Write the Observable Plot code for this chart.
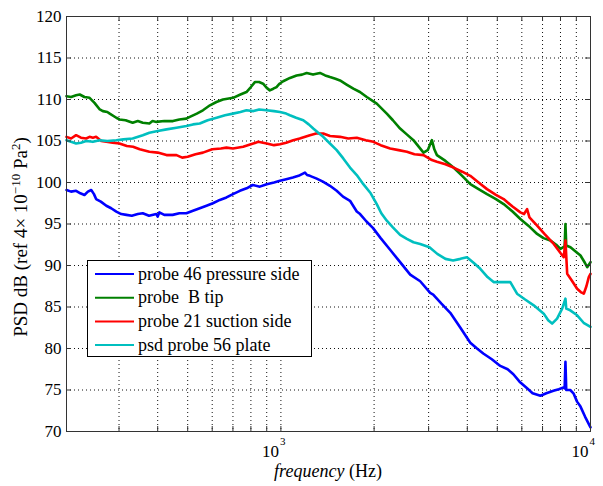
<!DOCTYPE html>
<html><head><meta charset="utf-8">
<script src="https://cdn.jsdelivr.net/npm/d3@7"></script>
<script src="https://cdn.jsdelivr.net/npm/@observablehq/plot@0.6"></script>
<style>
body{margin:0;background:#fff;}
#chart svg{display:block;}
</style></head><body><div id="chart"></div>
<script>
const seriesNames = ["probe 46 pressure side", "probe  B tip", "probe 21 suction side", "psd probe 56 plate"];
const seriesColors = ["#0000ff", "#008000", "#ff0000", "#00bfbf"];

// [frequency Hz, PSD dB]
const probe46 = [[203,99.1],[210,98.9],[218,99.0],[225,98.7],[232,98.5],[238,98.9],[244,99.1],[249,98.6],[253,98.0],[262,97.7],[273,97.2],[283,96.9],[294,96.5],[305,96.2],[317,96.1],[330,96.0],[345,96.2],[358,96.3],[375,96.0],[396,96.2],[400,95.9],[405,96.4],[420,96.1],[447,96.1],[470,96.3],[495,96.3],[520,96.6],[547,96.9],[575,97.2],[603,97.5],[635,97.9],[667,98.2],[700,98.6],[737,99.0],[775,99.3],[811,99.7],[855,99.5],[900,99.8],[950,100.0],[993,100.2],[1040,100.4],[1093,100.6],[1140,100.8],[1196,101.2],[1215,100.9],[1241,100.8],[1300,100.5],[1367,100.1],[1440,99.6],[1514,99.0],[1587,98.3],[1672,97.8],[1758,96.5],[1802,96.2],[1890,95.3],[1985,94.5],[2100,93.3],[2253,91.9],[2427,90.4],[2616,88.9],[2818,88.1],[3035,86.7],[3104,86.5],[3300,85.4],[3524,84.3],[3800,82.5],[4090,80.7],[4300,80.0],[4505,79.4],[4800,78.7],[5113,77.9],[5400,77.5],[5634,76.9],[5900,76.0],[6240,75.2],[6500,74.6],[6890,74.3],[7200,74.6],[7592,74.9],[7900,75.1],[8176,75.3],[8250,75.2],[8300,78.4],[8350,75.0],[8600,75.0],[8810,74.6],[9050,73.6],[9283,73.0],[9600,71.8],[10000,70.5]];

const probeB = [[203,110.4],[210,110.3],[218,110.5],[224,110.6],[232,110.3],[241,110.2],[250,109.6],[260,108.8],[266,108.6],[275,108.5],[280,108.3],[294,107.8],[301,107.6],[315,107.5],[332,107.2],[345,107.4],[358,107.2],[376,107.1],[385,107.4],[396,107.3],[420,107.4],[448,107.4],[470,107.6],[495,107.7],[508,107.9],[535,108.3],[560,108.7],[590,109.3],[619,109.7],[650,110.0],[701,110.2],[740,110.6],[774,110.9],[800,111.5],[824,112.1],[850,112.1],[876,111.9],[900,111.4],[921,111.1],[945,111.3],[968,111.5],[990,111.9],[1017,112.2],[1070,112.6],[1124,112.9],[1170,113.0],[1211,113.2],[1270,113.0],[1337,113.2],[1390,112.9],[1441,112.7],[1500,112.5],[1552,112.3],[1630,111.8],[1714,111.3],[1800,110.9],[1894,110.3],[2040,109.5],[2198,108.3],[2300,107.5],[2427,106.5],[2550,105.8],[2680,105.1],[2790,104.3],[2888,103.6],[2980,103.9],[3074,105.1],[3130,104.0],[3191,103.3],[3400,102.6],[3611,101.8],[3850,100.8],[4090,99.8],[4350,99.2],[4632,98.6],[4950,98.0],[5242,97.4],[5600,96.5],[5935,95.6],[6300,94.8],[6723,93.8],[7050,93.3],[7424,93.0],[7750,92.5],[7999,92.0],[8250,92.3],[8300,95.0],[8350,92.4],[8616,92.2],[8950,91.7],[9283,91.2],[9600,90.3],[9757,89.8],[10000,90.4]];

const probe21 = [[203,105.5],[210,105.3],[218,105.7],[226,105.4],[235,105.3],[241,105.5],[247,105.4],[253,105.5],[263,105.0],[273,104.9],[286,104.8],[301,104.7],[318,104.4],[333,104.3],[350,104.0],[376,103.7],[400,103.6],[427,103.3],[460,103.3],[480,103.0],[500,103.1],[530,103.4],[560,103.6],[600,104.0],[640,104.1],[667,104.2],[700,104.1],[755,104.3],[800,104.6],[845,104.9],[900,104.7],[950,104.5],[993,104.6],[1040,104.8],[1096,105.1],[1150,105.3],[1241,105.7],[1300,105.9],[1370,105.9],[1441,105.6],[1552,105.5],[1650,105.3],[1758,105.4],[1880,105.1],[1989,104.9],[2100,104.5],[2253,104.1],[2400,103.9],[2552,103.7],[2700,103.4],[2888,103.3],[3074,102.7],[3191,102.5],[3400,102.2],[3611,101.8],[3850,101.3],[4090,100.8],[4350,100.0],[4632,99.2],[4950,98.5],[5242,98.0],[5600,97.1],[5935,96.4],[6100,96.2],[6240,96.8],[6350,95.8],[6723,94.8],[7100,93.8],[7608,92.6],[8000,91.5],[8196,91.0],[8300,93.0],[8408,89.0],[8700,88.2],[9055,87.2],[9300,86.8],[9513,86.6],[9700,87.5],[9874,88.6],[10000,89.0]];

const probe56 = [[203,105.1],[210,104.9],[218,104.7],[226,104.8],[235,105.0],[247,104.9],[260,105.1],[275,105.0],[294,105.1],[310,105.2],[332,105.3],[358,105.7],[376,106.0],[400,106.2],[427,106.4],[460,106.6],[495,106.8],[520,107.0],[547,107.1],[580,107.5],[620,107.8],[660,108.1],[700,108.3],[740,108.5],[774,108.7],[815,108.6],[851,108.8],[899,108.7],[950,108.6],[993,108.5],[1040,108.3],[1069,108.1],[1120,107.8],[1181,107.5],[1230,107.0],[1272,106.5],[1320,106.0],[1370,105.5],[1440,104.7],[1514,103.9],[1590,102.9],[1672,101.8],[1758,100.9],[1846,99.8],[1950,98.7],[2040,97.4],[2110,96.3],[2198,95.4],[2300,94.6],[2427,93.7],[2552,93.2],[2680,92.8],[2818,92.6],[3019,92.2],[3200,91.4],[3400,90.8],[3600,90.6],[3800,90.8],[3990,91.0],[4200,90.3],[4406,89.6],[4650,88.6],[4864,88.0],[5150,88.0],[5508,88.0],[5791,86.6],[6150,85.9],[6555,85.2],[7063,84.2],[7300,83.4],[7516,83.0],[7800,83.6],[8100,84.8],[8300,86.0],[8350,84.8],[8600,84.6],[9055,84.0],[9500,83.1],[10000,82.6]];

const yTicks = [70, 75, 80, 85, 90, 95, 100, 105, 110, 115, 120];
const xMajor = [1000, 10000];
const xMajorExp = ["3", "4"];
const xMinor = [300, 400, 500, 600, 700, 800, 900, 2000, 3000, 4000, 5000, 6000, 7000, 8000, 9000];
const xDomain = [203, 10000];
const yDomain = [70, 120];

const seriesData = [probe46, probeB, probe21, probe56];
const rows = seriesData.flatMap((arr, k) => arr.map(([f, db]) => ({series: seriesNames[k], f, db})));

const W = 603, H = 486, mL = 66, mR = 13, mT = 16, mB = 55;
const pw = W - mL - mR, ph = H - mT - mB;
const serif = "'Liberation Serif','Times New Roman','DejaVu Serif',serif";
const tickLen = 5;

const chart = Plot.plot({
  width: W, height: H,
  marginLeft: mL, marginRight: mR, marginTop: mT, marginBottom: mB,
  style: {fontFamily: serif, fontSize: "17px", color: "#000", background: "#fff"},
  x: {type: "log", domain: xDomain, axis: null},
  y: {domain: yDomain},
  color: {domain: seriesNames, range: seriesColors},
  marks: [
    Plot.ruleX(xMinor.concat(xMajor), {stroke: "#111", strokeDasharray: "1,3", strokeWidth: 1}),
    Plot.ruleY(yTicks.slice(1, -1), {stroke: "#111", strokeDasharray: "1,3", strokeWidth: 1}),
    Plot.line(rows, {x: "f", y: "db", z: "series", stroke: "series", strokeWidth: 2.6}),
    Plot.tickX(xMinor.concat(xMajor), {insetTop: ph - tickLen, stroke: "#333"}),
    Plot.tickX(xMinor.concat(xMajor), {insetBottom: ph - tickLen, stroke: "#333"}),
    Plot.tickY(yTicks, {insetRight: pw - tickLen, stroke: "#333"}),
    Plot.tickY(yTicks, {insetLeft: pw - tickLen, stroke: "#333"}),
    Plot.frame({stroke: "#333"}),
    Plot.axisY(yTicks, {anchor: "left", tickSize: 0, tickPadding: 5, label: null, fontSize: 17})
  ]
});

document.getElementById("chart").appendChild(chart);

const sx = chart.scale("x");
const svg = d3.select(chart);

// x tick labels 10^3, 10^4
xMajor.forEach((v, i) => {
  const px = sx.apply(v);
  svg.append("text").attr("x", px - 1.5).attr("y", 457).attr("text-anchor", "end")
    .style("font-family", serif).attr("font-size", 17).attr("fill", "#000").text("10");
  svg.append("text").attr("x", px - 0.5).attr("y", 445).attr("text-anchor", "start")
    .style("font-family", serif).attr("font-size", 11).attr("fill", "#000").text(xMajorExp[i]);
});

// x axis title
const xt = svg.append("text").attr("x", (mL + W - mR) / 2).attr("y", 477).attr("text-anchor", "middle")
  .style("font-family", serif).attr("font-size", 18).attr("fill", "#000");
xt.append("tspan").attr("font-style", "italic").text("frequency");
xt.append("tspan").text(" (Hz)");

// y axis title
const yt = svg.append("text").attr("transform", "translate(27,237) rotate(-90)").attr("text-anchor", "middle")
  .style("font-family", serif).attr("font-size", 19).attr("fill", "#000");
yt.append("tspan").text("PSD dB (ref 4\u00d7 10");
yt.append("tspan").attr("dy", -7).attr("font-size", 13).text("\u221210");
yt.append("tspan").attr("dy", 7).text(" Pa");
yt.append("tspan").attr("dy", -7).attr("font-size", 13).text("2");
yt.append("tspan").attr("dy", 7).text(")");

// legend
const lg = svg.append("g");
lg.append("rect").attr("x", 87.5).attr("y", 260.5).attr("width", 224).attr("height", 96)
  .attr("fill", "#fff").attr("stroke", "#000").attr("stroke-width", 1);
seriesNames.forEach((name, i) => {
  const cy = 274 + i * 23.7;
  lg.append("line").attr("x1", 95).attr("x2", 134).attr("y1", cy).attr("y2", cy)
    .attr("stroke", seriesColors[i]).attr("stroke-width", 2);
  lg.append("text").attr("x", 138).attr("y", cy + 5.5).attr("text-anchor", "start")
    .style("font-family", serif).attr("font-size", 18).attr("fill", "#000")
    .style("white-space", "pre").text(name);
});
</script></body></html>
